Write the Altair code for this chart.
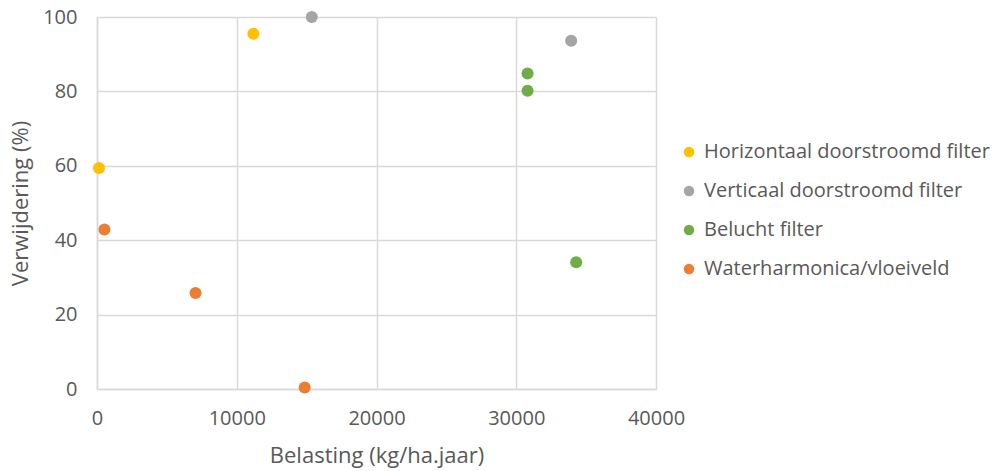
import altair as alt
import pandas as pd

series = ["Horizontaal doorstroomd filter", "Verticaal doorstroomd filter",
          "Belucht filter", "Waterharmonica/vloeiveld"]
colors = ["#FFC000", "#A5A5A5", "#70AD47", "#ED7D31"]

belasting = [11190, 140, 15370, 33930, 30810, 30810, 34290, 530, 7050, 14860]
verwijdering = [95.5, 59.4, 100.0, 93.6, 84.8, 80.2, 34.1, 42.9, 25.8, 0.4]
groep = [series[0], series[0], series[1], series[1], series[2], series[2], series[2],
         series[3], series[3], series[3]]

df = pd.DataFrame({"Belasting": belasting, "Verwijdering": verwijdering, "Groep": groep})

font = "Open Sans"
txt = "#595959"
grid = "#D9D9D9"

chart = alt.Chart(df).mark_circle(size=145, opacity=1).encode(
    x=alt.X("Belasting:Q", title="Belasting (kg/ha.jaar)",
            scale=alt.Scale(domain=[0, 40000], nice=False),
            axis=alt.Axis(values=[0, 10000, 20000, 30000, 40000], format="d",
                          labelPadding=19, titlePadding=17)),
    y=alt.Y("Verwijdering:Q", title="Verwijdering (%)",
            scale=alt.Scale(domain=[0, 100], nice=False),
            axis=alt.Axis(values=[0, 20, 40, 60, 80, 100],
                          labelPadding=20, titlePadding=10)),
    color=alt.Color("Groep:N", title=None,
                    scale=alt.Scale(domain=series, range=colors),
                    legend=alt.Legend(orient="none", legendX=582, legendY=125,
                                      symbolType="circle", symbolSize=110,
                                      rowPadding=19, labelLimit=400,
                                      labelOffset=5)),
).properties(
    width=559, height=372,
    padding={"left": 97, "top": 17, "right": 337, "bottom": 82},
    autosize=alt.AutoSizeParams(type="none"),
    background="white",
).configure_view(stroke=None).configure_axis(
    grid=True, gridColor=grid, gridWidth=1.5, domainColor=grid, domainWidth=1.5,
    ticks=False, labelFlush=False, labelFont=font, titleFont=font,
    labelFontSize=20, titleFontSize=22,
    labelColor=txt, titleColor=txt, titleFontWeight="normal",
).configure_legend(
    labelFont=font, labelFontSize=20, labelColor=txt,
)

chart.save("out.html", embed_options={"renderer": "svg", "actions": False})
